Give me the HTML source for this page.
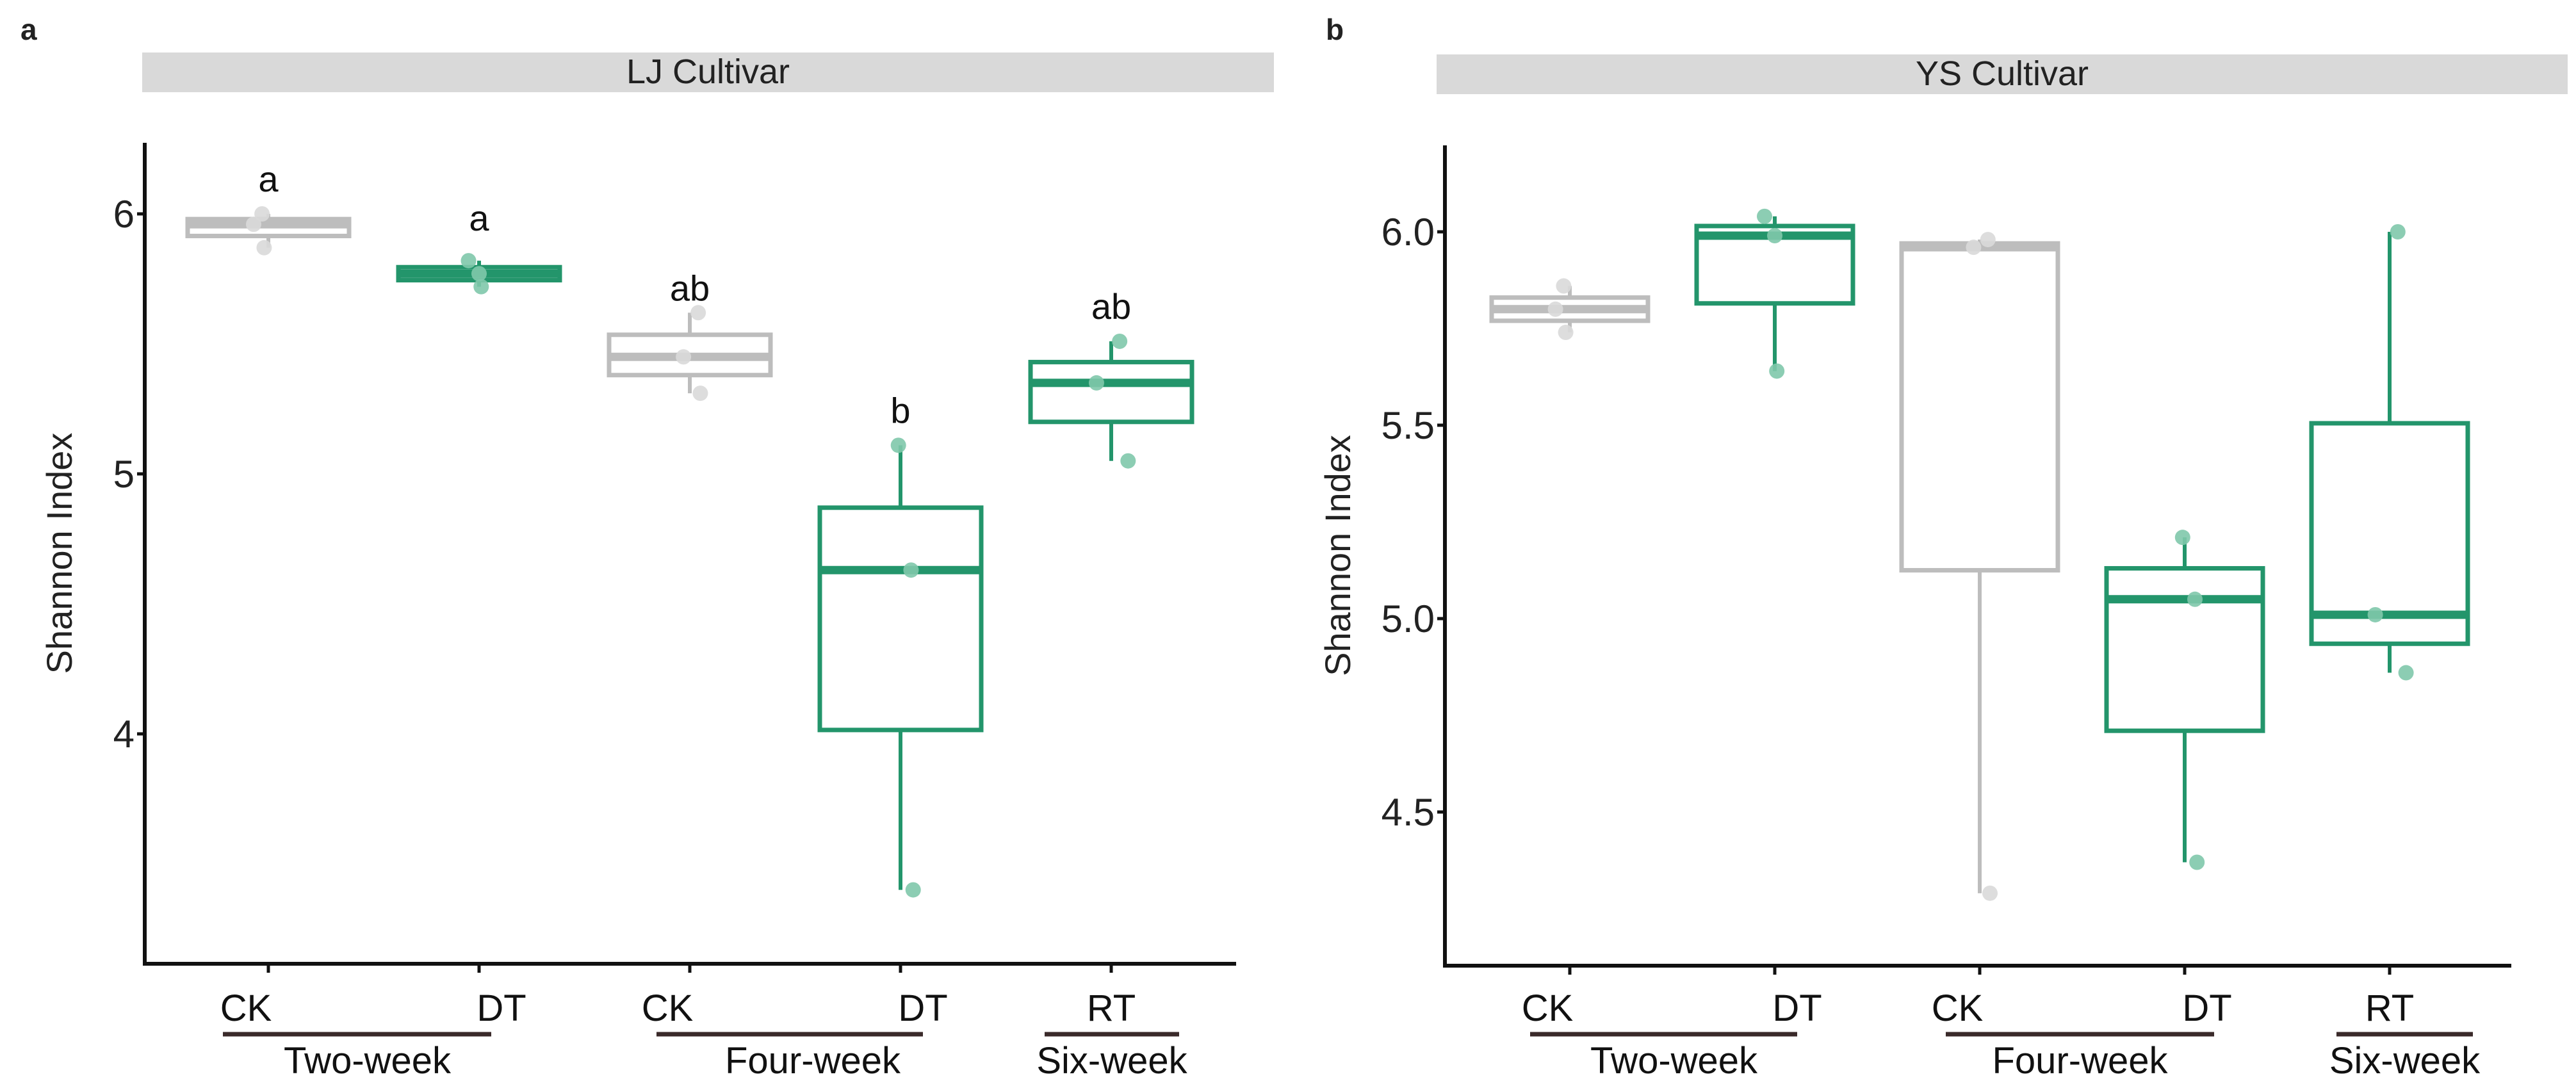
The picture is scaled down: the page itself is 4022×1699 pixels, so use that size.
<!DOCTYPE html>
<html><head><meta charset="utf-8"><style>
html,body{margin:0;padding:0;background:#fff;}
svg{display:block;font-family:"Liberation Sans",Arial,sans-serif;}
</style></head><body>
<svg id="chart" width="4022" height="1699" viewBox="0 0 4022 1699" xmlns="http://www.w3.org/2000/svg"></svg>
<script>
const categories = ["CK","DT","CK","DT","RT"];
const groupLabels = ["Two-week","Four-week","Six-week"];
const catColors = ["gray","green","gray","green","green"];
const ljPoints = [[6.00,5.96,5.87],[5.82,5.77,5.72],[5.62,5.45,5.31],[5.11,4.63,3.40],[5.51,5.35,5.05]];
const ysPoints = [[5.86,5.80,5.74],[6.04,5.99,5.64],[5.98,5.96,4.29],[5.21,5.05,4.37],[6.00,5.01,4.86]];
const jitter = [[-0.03,-0.07,-0.02],[-0.05,0.0,0.01],[0.04,-0.03,0.05],[-0.01,0.05,0.06],[0.04,-0.07,0.08]];
const ljLetters = ["a","a","ab","b","ab"];
const ljLetterVals = [6.13,5.98,5.71,5.24,5.64];
const ljTicks = [4,5,6];
const ljTickLabels = ["4","5","6"];
const ysTicks = [4.5,5.0,5.5,6.0];
const ysTickLabels = ["4.5","5.0","5.5","6.0"];

const svg = document.getElementById('chart');
const NS = "http://www.w3.org/2000/svg";
function mk(tag, attrs, parent){const e=document.createElementNS(NS,tag);for(const k in attrs)e.setAttribute(k,attrs[k]);(parent||svg).appendChild(e);return e;}
const COL = {gray:"#bdbdbd", green:"#23956b"};
const PT = {gray:"#d9d9d9", green:"#7fc8ab"};

function panel(cfg){
  const g = mk('g',{});
  
  
  const y = v => cfg.y0 + (cfg.vTop - v)*cfg.unit;
  const x = i => cfg.x0 + i*cfg.step;
  const lab = mk('text',{x:cfg.labX,y:62,'font-size':46,'font-weight':'bold',fill:'#222'},g);
  lab.textContent = cfg.letter;
  
  
  const strip = mk('rect',{x:cfg.sx0,y:cfg.sy0,width:cfg.sx1-cfg.sx0,height:62,fill:'#d9d9d9'},g);
  
  
  const st = mk('text',{x:(cfg.sx0+cfg.sx1)/2,y:cfg.sy0+48,'font-size':54,'text-anchor':'middle',fill:'#222'},g);
  st.textContent = cfg.title;
  
  
  const ya = mk('line',{x1:cfg.ax,y1:cfg.axTop,x2:cfg.ax,y2:cfg.axBot+3,stroke:'#111','stroke-width':6},g);
  
  
  const xa = mk('line',{x1:cfg.ax-3,y1:cfg.axBot,x2:cfg.axRight,y2:cfg.axBot,stroke:'#111','stroke-width':6},g);
  
  
  cfg.ticks.forEach((t,i)=>{
    const tl = mk('line',{x1:cfg.ax-12,y1:y(t),x2:cfg.ax,y2:y(t),stroke:'#111','stroke-width':5},g);
    
    
    const tt = mk('text',{x:cfg.ax-16,y:y(t)+21,'font-size':60,'text-anchor':'end',fill:'#222'},g);
    tt.textContent = cfg.tickLabels[i];
    
    
  });
  const yt = mk('text',{x:0,y:0,'font-size':56,'text-anchor':'middle',fill:'#222',transform:`translate(${cfg.titleX},${(cfg.axTop+cfg.axBot)/2}) rotate(-90)`},g);
  yt.textContent = 'Shannon Index';
  
  
  cfg.points.forEach((pts,i)=>{
    const s=[...pts].sort((a,b)=>a-b);
    const mn=s[0],md=s[1],mx=s[2],q1=(mn+md)/2,q3=(md+mx)/2;
    const c=COL[catColors[i]], cx=x(i), hw=cfg.hw;
    const bg = mk('g',{},g);
    
    
    mk('line',{x1:cx,y1:y(mx),x2:cx,y2:y(q3),stroke:c,'stroke-width':6},bg);
    mk('line',{x1:cx,y1:y(q1),x2:cx,y2:y(mn),stroke:c,'stroke-width':6},bg);
    mk('rect',{x:cx-hw,y:y(q3),width:2*hw,height:Math.max(1,y(q1)-y(q3)),fill:'#fff',stroke:c,'stroke-width':7},bg);
    mk('line',{x1:cx-hw,y1:y(md),x2:cx+hw,y2:y(md),stroke:c,'stroke-width':13},bg);
    pts.forEach((p,j)=>{
      const d = mk('circle',{cx:cx+jitter[i][j]*cfg.step,cy:y(p),r:12,fill:PT[catColors[i]],'fill-opacity':0.9},g);
      
      
    });
    const xt = mk('line',{x1:cx,y1:cfg.axBot,x2:cx,y2:cfg.axBot+14,stroke:'#111','stroke-width':5},g);
    
    
    const off = i===4?0:(i%2===0?-35:35);
    const xl = mk('text',{x:cx+off,y:1594,'font-size':58,'text-anchor':'middle',fill:'#111'},g);
    xl.textContent = categories[i];
    
    
    if(cfg.letters){
      const lt = mk('text',{x:cx,y:y(cfg.letterVals[i])+18,'font-size':56,'text-anchor':'middle',fill:'#111'},g);
      lt.textContent = cfg.letters[i];
      
      
    }
  });
  cfg.groups.forEach((gr,k)=>{
    const gl = mk('line',{x1:gr[0],y1:1615,x2:gr[1],y2:1615,stroke:'#3a2a2a','stroke-width':7},g);
    
    
    const gt = mk('text',{x:(gr[0]+gr[1])/2+cfg.gOff[k],y:1676,'font-size':58,'text-anchor':'middle',fill:'#111'},g);
    gt.textContent = groupLabels[k];
    
    
  });
}
panel({name:'panel-a-lj', letter:'a', labX:32, title:'LJ Cultivar', sx0:222, sx1:1989, sy0:82,
  ax:226, axTop:223, axBot:1505, axRight:1930, x0:419, step:329, hw:126,
  y0:334, vTop:6, unit:406, ticks:ljTicks, tickLabels:ljTickLabels, titleX:112,
  points:ljPoints, letters:ljLetters, letterVals:ljLetterVals,
  groups:[[348,767],[1025,1441],[1631,1841]], gOff:[16,36,0]});
panel({name:'panel-b-ys', letter:'b', labX:2070, title:'YS Cultivar', sx0:2243, sx1:4009, sy0:85,
  ax:2256, axTop:227, axBot:1508, axRight:3921, x0:2451, step:320, hw:122,
  y0:362, vTop:6, unit:604, ticks:ysTicks, tickLabels:ysTickLabels, titleX:2108,
  points:ysPoints, letters:null,
  groups:[[2389,2806],[3038,3457],[3648,3861]], gOff:[16,0,0]});
</script>
</body></html>
